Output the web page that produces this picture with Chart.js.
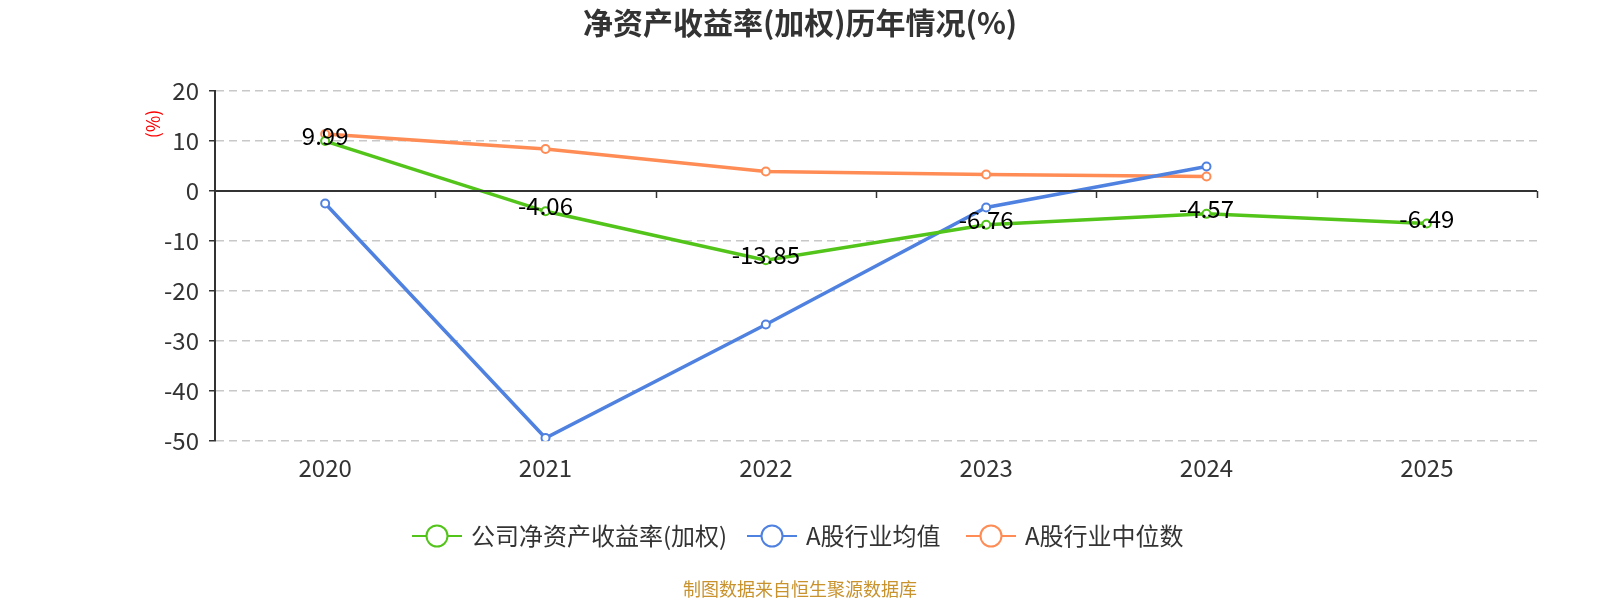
<!DOCTYPE html>
<html>
<head>
<meta charset="utf-8">
<script src="https://cdn.jsdelivr.net/npm/chart.js@4"></script>
<style>
  html, body { margin: 0; padding: 0; background: #fff; }
  #wrap { width: 1600px; height: 600px; position: relative; }
</style>
</head>
<body>
<div id="wrap"><canvas id="roeChart"></canvas></div>
<script>
const years = ['2020', '2021', '2022', '2023', '2024', '2025'];
const companyRoe = [9.99, -4.06, -13.85, -6.76, -4.57, -6.49];
const industryAvg = [-2.5, -49.4, -26.7, -3.3, 4.9, null];
const industryMedian = [11.4, 8.4, 3.9, 3.3, 2.9, null];
const seriesNames = ['公司净资产收益率(加权)', 'A股行业均值', 'A股行业中位数'];
const colors = ['#52c41a', '#4f81e1', '#ff8c55'];

const FONT = '"Noto Sans CJK SC", "Noto Sans", sans-serif';

const decor = {
  id: 'decor',
  afterDatasetsDraw(chart) {
    const ctx = chart.ctx;
    const y = chart.scales.y;
    const area = chart.chartArea;
    const zeroY = Math.round(y.getPixelForValue(0));

    // zero axis line with ticks between categories
    ctx.save();
    ctx.strokeStyle = '#333';
    ctx.lineWidth = 2;
    ctx.beginPath();
    ctx.moveTo(area.left, zeroY);
    ctx.lineTo(area.right, zeroY);
    ctx.stroke();
    const step = (area.right - area.left) / years.length;
    ctx.lineWidth = 1.5;
    for (let i = 1; i <= years.length; i++) {
      const px = Math.round(area.left + step * i) + 0.5;
      ctx.beginPath();
      ctx.moveTo(px, zeroY);
      ctx.lineTo(px, zeroY + 7);
      ctx.stroke();
    }
    ctx.restore();

    // data labels for the company series
    const meta = chart.getDatasetMeta(0);
    ctx.save();
    ctx.font = '24px ' + FONT;
    ctx.fillStyle = '#000';
    ctx.textAlign = 'center';
    ctx.textBaseline = 'middle';
    meta.data.forEach((pt, i) => {
      ctx.fillText(companyRoe[i].toFixed(2), pt.x, pt.y - 5);
    });
    ctx.restore();
  },
  afterDraw(chart) {
    const ctx = chart.ctx;
    ctx.save();
    // title
    ctx.font = 'bold 30px ' + FONT;
    ctx.fillStyle = '#333';
    ctx.textAlign = 'center';
    ctx.textBaseline = 'middle';
    ctx.fillText('净资产收益率(加权)历年情况(%)', 800, 23);

    // y axis unit
    ctx.save();
    ctx.translate(153, 124);
    ctx.rotate(-Math.PI / 2);
    ctx.font = '18px ' + FONT;
    ctx.fillStyle = '#f00';
    ctx.fillText('(%)', 0, 0);
    ctx.restore();

    // legend
    const iconX = [437, 772, 991];
    ctx.font = '24px ' + FONT;
    ctx.textAlign = 'left';
    for (let i = 0; i < seriesNames.length; i++) {
      const cx = iconX[i];
      const cy = 536;
      ctx.strokeStyle = colors[i];
      ctx.lineWidth = 2;
      ctx.beginPath();
      ctx.moveTo(cx - 25, cy);
      ctx.lineTo(cx + 25, cy);
      ctx.stroke();
      ctx.beginPath();
      ctx.arc(cx, cy, 10.5, 0, Math.PI * 2);
      ctx.fillStyle = '#fff';
      ctx.fill();
      ctx.stroke();
      ctx.fillStyle = '#333';
      ctx.fillText(seriesNames[i], cx + 34, cy);
    }

    // source
    ctx.textAlign = 'center';
    ctx.font = '18px ' + FONT;
    ctx.fillStyle = '#c8922c';
    ctx.fillText('制图数据来自恒生聚源数据库', 800, 589);
    ctx.restore();
  }
};

function makeSet(label, data, color) {
  return {
    label: label,
    data: data,
    borderColor: color,
    backgroundColor: '#fff',
    borderWidth: 3.5,
    pointRadius: 4,
    pointHoverRadius: 4,
    pointBorderWidth: 2,
    pointBackgroundColor: '#fff',
    pointBorderColor: color,
    tension: 0,
    spanGaps: false
  };
}

new Chart(document.getElementById('roeChart'), {
  type: 'line',
  data: {
    labels: years,
    datasets: [
      makeSet(seriesNames[0], companyRoe, colors[0]),
      makeSet(seriesNames[1], industryAvg, colors[1]),
      makeSet(seriesNames[2], industryMedian, colors[2])
    ]
  },
  options: {
    responsive: true,
    maintainAspectRatio: false,
    devicePixelRatio: 1,
    animation: false,
    layout: { padding: { top: 91, right: 63, left: 0, bottom: 0 } },
    plugins: {
      legend: { display: false },
      title: { display: false },
      tooltip: { enabled: false }
    },
    scales: {
      x: {
        offset: true,
        grid: { display: false, drawTicks: false },
        border: { display: false },
        ticks: { color: '#333', font: { size: 24, family: FONT }, padding: 12 },
        afterFit(scale) { scale.height = 159; }
      },
      y: {
        min: -50,
        max: 20,
        ticks: { stepSize: 10, color: '#333', font: { size: 24, family: FONT }, padding: 10 },
        grid: {
          color: ctx => ctx.tick && ctx.tick.value === 0 ? 'rgba(0,0,0,0)' : '#c8c8c8',
          lineWidth: 1.5,
          tickLength: 6,
          tickColor: '#333',
          tickWidth: 1.5,
          tickBorderDash: []
        },
        border: { display: true, color: '#333', width: 2, dash: [8, 5] },
        afterFit(scale) { scale.width = 215; }
      }
    }
  },
  plugins: [decor]
});
</script>
</body>
</html>
